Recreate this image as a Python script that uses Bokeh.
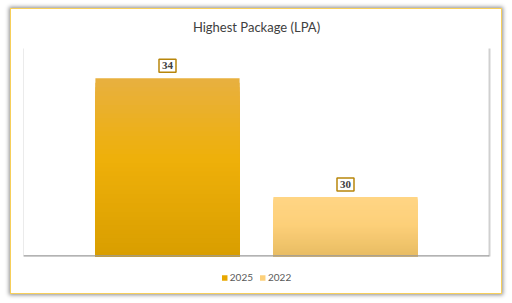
from bokeh.plotting import figure
from bokeh.layouts import column
from bokeh.models import (FactorRange, Range1d, Legend, LegendItem, LinearAxis, FixedTicker, Span, Label)
from bokeh.embed import file_html
from bokeh.resources import INLINE

# ---- data ----
title_text = "Highest Package (LPA)"
series = ["2025", "2022"]
values = [34, 30]
y_min, y_max = 28, 35

# gradient stops per series (top, middle, bottom)
grad = {
    "2025": ["#E8B040", "#EEB00A", "#D99E00"],
    "2022": ["#FFD584", "#FDD07A", "#E8BC62"],
}
legend_colors = {"2025": "#E8A800", "2022": "#FDD07A"}

W = 490


def hex2rgb(h):
    h = h.lstrip("#")
    return tuple(int(h[i:i + 2], 16) for i in (0, 2, 4))


def mix(c1, c2, t):
    a, b = hex2rgb(c1), hex2rgb(c2)
    return "#%02x%02x%02x" % tuple(round(a[i] + (b[i] - a[i]) * t) for i in range(3))


def grad_color(stops, t):  # t: 0 at bottom, 1 at top
    top, mid, bot = stops
    if t < 0.55:
        return mix(bot, mid, t / 0.55)
    return mix(mid, top, (t - 0.55) / 0.45)


def strip(h):
    f = figure(width=W, height=h, x_range=Range1d(0, 1), y_range=Range1d(0, 1),
               output_backend="svg", toolbar_location=None, x_axis_type=None, y_axis_type=None,
               min_border=0)
    f.outline_line_color = None
    f.grid.visible = False
    f.background_fill_color = "white"
    f.border_fill_color = "white"
    return f


# ---- title strip ----
tf = strip(39)
tf.add_layout(Label(x=0.5, y=0.56, text=title_text, text_align="center", text_baseline="middle",
                    text_font="Lato", text_font_size="13px", text_color="#404040"))

# ---- main plot ----
p = figure(
    width=W, height=217,
    x_range=FactorRange(*series, range_padding=0.309),
    y_range=Range1d(y_min, y_max),
    output_backend="svg", toolbar_location=None,
    x_axis_type=None, y_axis_type=None,
    min_border_left=12, min_border_right=12, min_border_top=0, min_border_bottom=9,
)
p.background_fill_color = "white"
p.border_fill_color = "white"
p.outline_line_color = None
p.grid.visible = False

N = 40
bar_w = 0.81
for s, v in zip(series, values):
    # tallest first, shorter ones on top -> smooth vertical gradient without seams
    for i in range(N, 0, -1):
        t = y_min + (v - y_min) * i / N
        c = grad_color(grad[s], (i - 0.5) / N)
        p.vbar(x=[s], bottom=[y_min], top=[t], width=bar_w, fill_color=c, line_color=None)

# data labels (boxed)
p.text(x=series, y=values, text=[str(v) for v in values], text_align="center",
       text_baseline="bottom", y_offset=-6, text_font="Lato", text_font_size="11px",
       text_font_style="bold", text_color="#404040", background_fill_color="white",
       border_line_color="#B8860B", border_line_width=1.5, padding=3)

# plot-area edge lines
for side, col, w in (("left", "#EBEBEB", 1), ("right", "#D0D0D0", 2)):
    ax = LinearAxis(ticker=FixedTicker(ticks=[]), axis_line_color=col, axis_line_width=w,
                    major_tick_line_color=None, minor_tick_line_color=None)
    p.add_layout(ax, side)
p.add_layout(Span(location=y_min, dimension="width", line_color="#9A9A9A", line_width=2.5))

# ---- legend strip ----
lf = strip(28)
leg_items = []
for s in series:
    r = lf.vbar(x=[0.5], bottom=[-6], top=[-5], width=0.1,
                fill_color=legend_colors[s], line_color=None)
    leg_items.append(LegendItem(label=s, renderers=[r]))
legend = Legend(items=leg_items, orientation="horizontal", location="top_center",
                label_text_font="Lato", label_text_font_size="10px", label_text_color="#595959",
                glyph_width=7, glyph_height=7, label_standoff=2, spacing=6,
                border_line_color=None, background_fill_alpha=0, padding=2, margin=6)
lf.add_layout(legend)

layout = column(tf, p, lf, spacing=0)
layout.margin = (8, 0, 0, 10)
layout.styles = {"border": "1.5px solid #F7CF5A", "box-shadow": "0px 0px 4px 1px rgba(0,0,0,0.45)",
                 "background-color": "white"}

open("out.html", "w").write(file_html(layout, INLINE))
